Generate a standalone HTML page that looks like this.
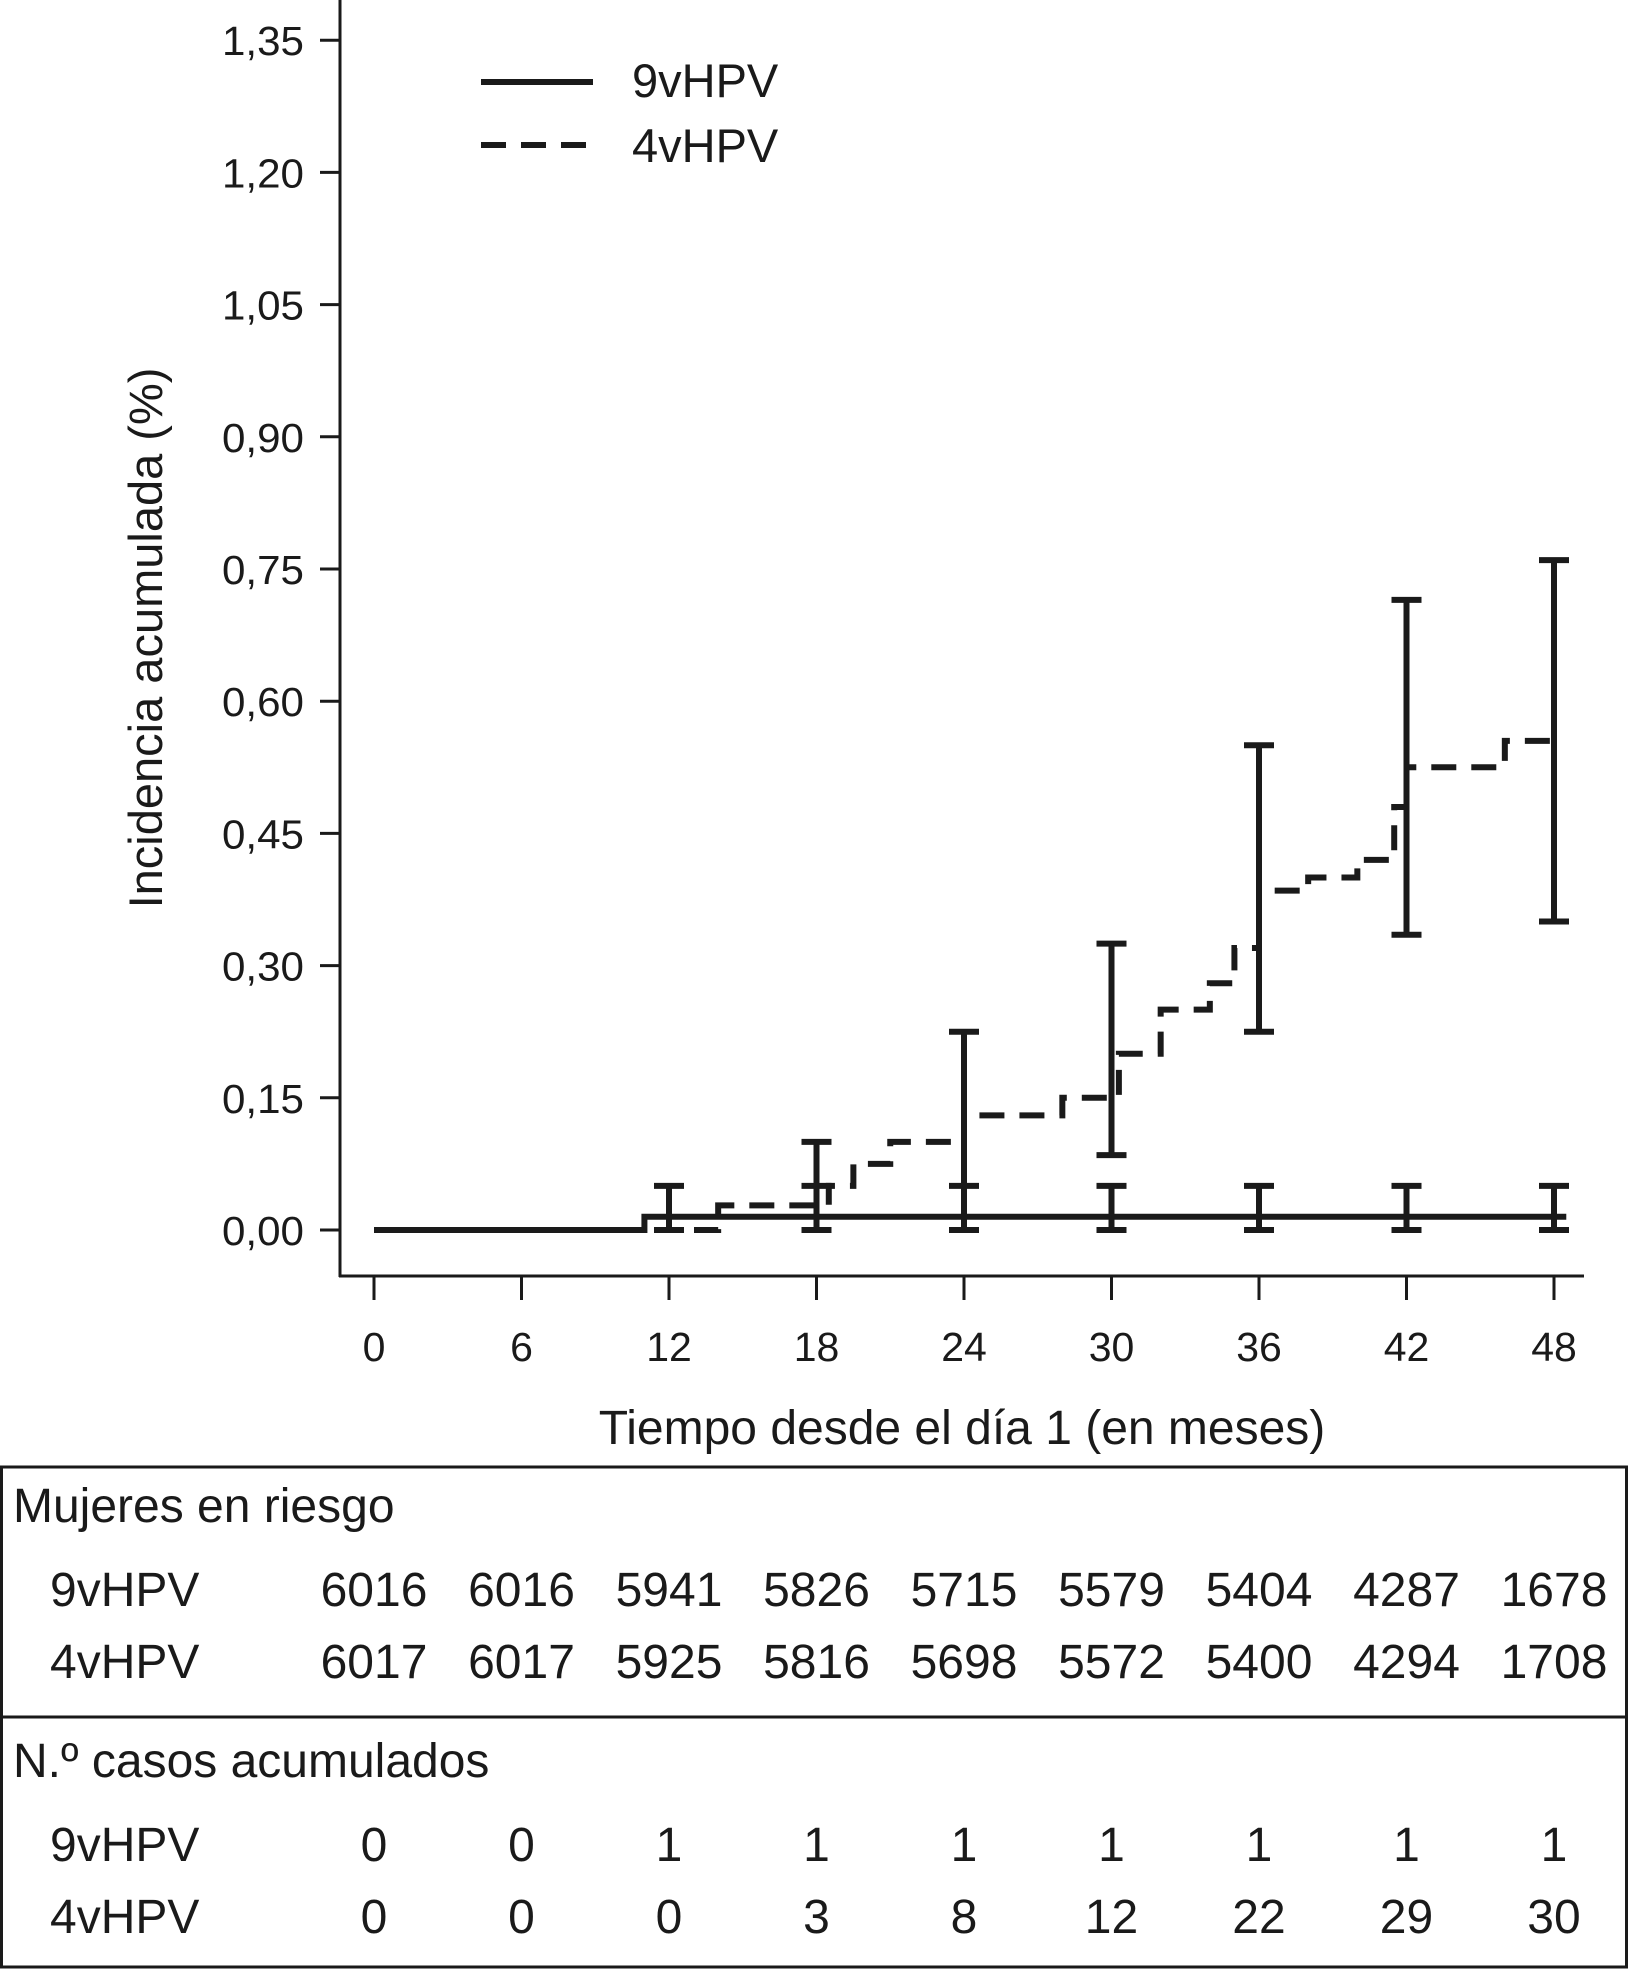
<!DOCTYPE html>
<html><head><meta charset="utf-8"><style>
html,body{margin:0;padding:0;background:#fff;}
svg{display:block;font-family:"Liberation Sans",Arial,sans-serif;fill:#1a1a1a;}
</style></head><body>
<svg id="chart" width="1628" height="1970" viewBox="0 0 1628 1970" xmlns="http://www.w3.org/2000/svg">
<g id="axes"></g>
<g id="marks"></g>
<g>
  <line x1="481" y1="82" x2="593" y2="82" stroke="#1a1a1a" stroke-width="6"/>
  <text x="632" y="97" font-size="47">9vHPV</text>
  <line x1="481" y1="145" x2="593" y2="145" stroke="#1a1a1a" stroke-width="6" stroke-dasharray="25 15"/>
  <text x="632" y="162" font-size="47">4vHPV</text>
</g>
<text transform="translate(162,638) rotate(-90)" text-anchor="middle" font-size="47">Incidencia acumulada (%)</text>
<text x="962" y="1444" text-anchor="middle" font-size="48">Tiempo desde el día 1 (en meses)</text>
<g>
  <rect x="1.5" y="1467" width="1625" height="500" fill="none" stroke="#1a1a1a" stroke-width="3"/>
  <line x1="0" y1="1717" x2="1628" y2="1717" stroke="#1a1a1a" stroke-width="3"/>
  <text x="13" y="1522" font-size="48">Mujeres en riesgo</text>
  <text x="13" y="1777" font-size="48">N.º casos acumulados</text>
  <g id="tablerows"></g>
</g>
</svg>
<script>
const ticksX = [0,6,12,18,24,30,36,42,48];
const ticksY = [0,0.15,0.30,0.45,0.60,0.75,0.90,1.05,1.20,1.35];
const tickLabelsY = ["0,00","0,15","0,30","0,45","0,60","0,75","0,90","1,05","1,20","1,35"];
const times9 = [0,11,48.5];
const vals9 = [0,0.015,0.015];
const times4 = [0,13.5,14,18.5,19.5,21,24,28,30.3,32,34,35,36,38,40,41.5,42,46,48];
const vals4 = [0,0,0.028,0.05,0.075,0.10,0.13,0.15,0.20,0.25,0.28,0.32,0.385,0.40,0.42,0.48,0.525,0.555,0.555];
const ciTimes9 = [12,18,24,30,36,42,48];
const ciLow9 = [0,0,0,0,0,0,0];
const ciHigh9 = [0.05,0.05,0.05,0.05,0.05,0.05,0.05];
const ciTimes4 = [18,24,30,36,42,48];
const ciLow4 = [0,0,0.085,0.225,0.335,0.35];
const ciHigh4 = [0.10,0.225,0.325,0.55,0.715,0.76];
const riskGroups = ["9vHPV","4vHPV"];
const risk9 = [6016,6016,5941,5826,5715,5579,5404,4287,1678];
const risk4 = [6017,6017,5925,5816,5698,5572,5400,4294,1708];
const cases9 = [0,0,1,1,1,1,1,1,1];
const cases4 = [0,0,0,3,8,12,22,29,30];

const NS="http://www.w3.org/2000/svg";
const X = t => 374 + t/6*147.5;
const Y = v => 1230 - v/0.15*132.2;
function mk(tag, attrs, parent){const e=document.createElementNS(NS,tag);for(const k in attrs)e.setAttribute(k,attrs[k]);parent.appendChild(e);return e;}
const axes=document.getElementById('axes'), marks=document.getElementById('marks'), tr=document.getElementById('tablerows');

let el=mk('line',{x1:340,y1:0,x2:340,y2:1277,stroke:'#1a1a1a','stroke-width':3},axes);


el=mk('line',{x1:339,y1:1276,x2:1584,y2:1276,stroke:'#1a1a1a','stroke-width':3},axes);


ticksY.forEach((v,i)=>{
  let t=mk('line',{x1:320,y1:Y(v),x2:340,y2:Y(v),stroke:'#1a1a1a','stroke-width':3},axes);
  
  
  let l=mk('text',{x:304,y:Y(v)+15,'text-anchor':'end','font-size':41,'textLength':82,'lengthAdjust':'spacingAndGlyphs'},axes);
  l.textContent=tickLabelsY[i];
  
  
});
ticksX.forEach(v=>{
  let t=mk('line',{x1:X(v),y1:1276,x2:X(v),y2:1300,stroke:'#1a1a1a','stroke-width':3},axes);
  
  
  let l=mk('text',{x:X(v),y:1361,'text-anchor':'middle','font-size':41},axes);
  l.textContent=v;
  
  
});
function stepPath(ts,vs){let d='M'+X(ts[0])+','+Y(vs[0]);for(let i=1;i<ts.length;i++){d+=' H'+X(ts[i])+' V'+Y(vs[i]);}return d;}
el=mk('path',{d:stepPath(times4,vals4),fill:'none',stroke:'#1a1a1a','stroke-width':6,'stroke-dasharray':'25 15'},marks);


el=mk('path',{d:stepPath(times9,vals9),fill:'none',stroke:'#1a1a1a','stroke-width':6},marks);


function ci(ts,lo,hi,name){ts.forEach((t,i)=>{
  const x=X(t), y1=Y(lo[i]), y2=Y(hi[i]);
  let p=mk('path',{d:`M${x},${y1} V${y2} M${x-15},${y1} H${x+15} M${x-15},${y2} H${x+15}`,fill:'none',stroke:'#1a1a1a','stroke-width':6},marks);
  
  
});}
ci(ciTimes9,ciLow9,ciHigh9,'error-bar-9vhpv');
ci(ciTimes4,ciLow4,ciHigh4,'error-bar-4vhpv');

function row(label,vals,y,name){
  let l=mk('text',{x:50,y:y,'font-size':48},tr);
  l.textContent=label;
  
  
  vals.forEach((v,i)=>{
    let c=mk('text',{x:X(ticksX[i]),y:y,'text-anchor':'middle','font-size':48},tr);
    c.textContent=v;
    
    
  });
}
row(riskGroups[0],risk9,1606,'at-risk-9vhpv');
row(riskGroups[1],risk4,1678,'at-risk-4vhpv');
row(riskGroups[0],cases9,1861,'cases-9vhpv');
row(riskGroups[1],cases4,1933,'cases-4vhpv');
</script>
</body></html>
